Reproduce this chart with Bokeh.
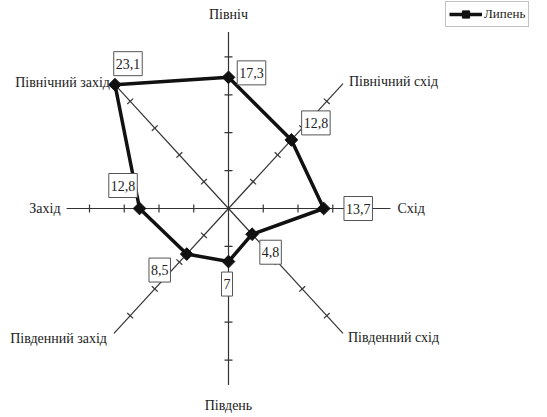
import numpy as np
from bokeh.plotting import figure
from bokeh.models import Range1d, Label, Legend, LegendItem
from bokeh.embed import file_html
from bokeh.resources import INLINE

# ---- data ----
directions = ["Північ", "Північний схід", "Схід", "Південний схід",
              "Південь", "Південний захід", "Захід", "Північний захід"]
july = [17.3, 12.8, 13.7, 4.8, 7, 8.5, 12.8, 23.1]
value_labels = ["17,3", "12,8", "13,7", "4,8", "7", "8,5", "12,8", "23,1"]
tick_values = [5, 10, 15, 20]
axis_max = 23.3
series_name = "Липень"

# ---- layout ----
W, H = 547, 417
SX, SY = 6.95, 7.58     # px per unit (x, y)
CX, CY = 228, 208       # centre in canvas px
FONT = "Liberation Serif"

ang = np.deg2rad([90, 45, 0, -45, -90, -135, 180, 135])
cs, sn = np.cos(ang), np.sin(ang)

p = figure(width=W, height=H,
           x_range=Range1d(-CX / SX, (W - CX) / SX),
           y_range=Range1d(-(H - CY) / SY, CY / SY),
           output_backend="svg", toolbar_location=None,
           x_axis_location=None, y_axis_location=None,
           min_border=0, outline_line_color=None)
p.grid.visible = False

# axes
p.segment(x0=np.zeros(8), y0=np.zeros(8), x1=axis_max * cs, y1=axis_max * sn,
          line_color="#333333", line_width=1.2)

# tick marks
tx, ty, ta = [], [], []
for c, s in zip(cs, sn):
    scr = np.arctan2(s * SY, c * SX)
    for t in tick_values:
        tx.append(t * c)
        ty.append(t * s)
        ta.append(scr + np.pi / 2)
p.scatter(tx, ty, marker="dash", size=8, angle=ta, line_color="#333333", line_width=1.2)

# data
vx = list(np.array(july) * cs) + [july[0] * cs[0]]
vy = list(np.array(july) * sn) + [july[0] * sn[0]]
line_r = p.line(vx, vy, line_color="#111111", line_width=3.5)
pts_r = p.scatter(vx[:-1], vy[:-1], marker="square", size=9, angle=np.pi / 4,
                  fill_color="#111111", line_color="#111111")

# direction labels
dir_off = [(0, 17, "center"), (6, 2, "left"), (7, 0, "left"), (5, -4, "left"),
           (0, -20, "center"), (-7, -5, "right"), (-6, 0, "right"), (-4, 1, "right")]
for name, c, s, (ox, oy, al) in zip(directions, cs, sn, dir_off):
    p.add_layout(Label(x=axis_max * c, y=axis_max * s, x_offset=ox, y_offset=oy,
                       text=name, text_align=al, text_baseline="middle",
                       text_font=FONT, text_font_size="14px", text_color="#222222"))

# value boxes
val_off = [(23, 4.5), (24.5, 17), (34.5, 0), (18.5, -18),
           (-1.5, -22.5), (-27, -16), (-16.5, 23), (13, 21)]
for v, lab, c, s, (ox, oy) in zip(july, value_labels, cs, sn, val_off):
    p.add_layout(Label(x=v * c, y=v * s, x_offset=ox, y_offset=oy, text=lab,
                       text_align="center", text_baseline="middle",
                       text_font=FONT, text_font_size="14px", text_color="#222222",
                       background_fill_color="white", border_line_color="#555555",
                       border_line_width=1,
                       padding=dict(left=2, right=2, top=7, bottom=7)))

legend = Legend(items=[LegendItem(label=series_name, renderers=[line_r, pts_r])],
                location=(445, H - 27), orientation="vertical",
                border_line_color="#888888", padding=3, spacing=0, margin=0,
                glyph_width=33, glyph_height=18, label_height=18, label_standoff=2,
                label_text_font=FONT, label_text_font_size="13px",
                label_text_color="#222222")
p.add_layout(legend)

open("out.html", "w").write(file_html(p, INLINE))
